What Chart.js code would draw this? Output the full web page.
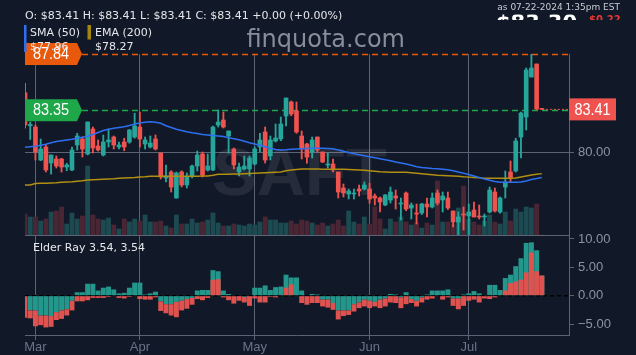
<!DOCTYPE html>
<html><head><meta charset="utf-8">
<script src="https://cdn.jsdelivr.net/npm/chart.js@4.4.1/dist/chart.umd.min.js"></script>
<style>
html,body{margin:0;padding:0;background:#111827;width:636px;height:355px;overflow:hidden}
#a{position:absolute;left:0;top:0}
#b{position:absolute;left:0;top:223px}
</style></head><body>
<canvas id="a" width="636" height="236"></canvas>
<canvas id="b" width="636" height="132"></canvas>
<script>
// ---------- data ----------
const monthLabels = ['Mar','Apr','May','Jun','Jul'];
const monthStartIndex = [2,22,44,66,85];
const open = [84.74,82.1,82.0,79.36,80.4,79.12,79.44,79.44,78.8,78.56,
80.56,81.04,79.84,81.84,80.48,79.76,80.8,81.2,80.4,80.8,
80.8,81.2,82.0,80.64,80.4,81.04,79.92,77.92,78.4,76.32,
78.4,77.36,78.08,78.88,79.84,78.56,78.56,82.16,82.56,81.28,
80.24,78.4,78.64,78.64,79.04,80.4,81.6,79.68,80.88,81.04,
82.88,84.0,83.28,81.28,80.64,80.0,81.2,80.0,78.96,79.04,
78.4,77.12,76.64,76.64,77.04,77.04,77.04,76.48,76.32,75.76,
76.16,76.48,75.84,76.72,75.52,75.12,75.12,75.84,75.6,76.72,
76.16,76.32,75.28,74.4,75.04,74.88,75.36,74.88,74.8,75.2,
76.8,75.2,77.2,78.4,78.48,81.2,82.8,86.0,87.04,83.41];
const high = [85.5,82.4,82.16,81.04,80.56,79.76,79.68,79.5,79.1,80.4,
81.5,81.2,82.4,82.0,80.96,81.36,81.84,81.28,80.8,81.1,
81.8,83.1,83.2,81.2,81.28,81.36,79.92,78.96,78.5,78.4,
78.5,78.32,78.96,80.08,80.0,79.84,82.08,83.36,83.2,81.68,
80.32,79.12,79.68,79.68,80.4,81.5,82.0,81.28,82.24,82.8,
84.32,84.08,84.0,81.68,80.7,81.2,81.2,80.0,79.92,79.44,
78.4,77.44,77.04,77.04,77.36,77.6,77.5,76.64,76.4,76.6,
77.2,76.96,76.32,76.8,75.92,75.84,75.9,76.32,76.72,76.96,
76.8,76.8,75.28,75.2,75.6,75.84,76.0,75.76,75.04,77.2,
77.12,76.4,78.48,79.28,81.1,83.2,86.72,87.84,87.04,83.41];
const low = [81.9,81.0,79.36,79.3,78.4,78.24,78.72,78.4,78.5,78.5,
80.16,79.6,79.76,79.92,80.08,79.68,80.4,80.24,80.24,80.1,
80.7,81.1,80.4,80.24,80.32,80.16,77.84,77.6,76.8,76.3,
77.2,77.12,77.92,78.48,78.0,78.48,78.5,82.0,81.92,79.9,
78.64,78.08,78.56,78.08,78.96,80.0,79.12,79.36,80.8,80.9,
82.08,82.9,81.5,79.44,79.1,79.52,80.0,79.15,78.72,78.4,
76.32,76.4,76.24,76.24,76.48,76.96,75.9,75.76,75.2,75.7,
75.92,75.44,74.56,75.3,74.64,74.24,75.0,74.8,75.52,75.76,
75.2,75.4,74.0,73.36,73.76,73.36,74.8,74.64,74.08,75.12,
75.2,75.1,76.32,77.6,78.4,79.52,81.76,86.0,83.36,83.41];
const close = [82.16,82.2,80.0,80.24,78.56,79.76,78.88,78.8,78.96,80.16,
81.28,80.24,82.4,80.32,80.16,80.8,80.96,80.56,80.56,80.4,
81.76,82.08,81.04,80.96,80.72,80.24,78.0,78.08,77.2,78.32,
77.36,78.0,78.88,79.76,78.16,78.88,82.0,82.4,82.0,81.68,
78.96,78.8,78.88,79.52,80.24,80.96,79.36,80.96,81.12,82.24,
84.32,83.04,81.6,80.24,79.6,80.96,80.16,79.2,79.04,78.56,
76.8,76.72,76.88,76.72,76.88,77.36,76.24,76.32,76.0,76.56,
76.8,76.32,75.92,75.44,75.76,75.04,75.84,75.6,76.32,75.92,
76.48,75.52,74.4,74.8,74.96,75.2,74.8,74.8,74.88,76.96,
75.28,76.32,77.6,77.92,80.88,83.12,86.56,86.72,83.44,83.41];
const volumeK = [63,54,54,42,48,69,72,84,33,66,
48,57,207,60,48,45,51,30,18,48,
39,48,42,60,39,39,42,27,21,60,
33,33,48,36,39,45,66,36,27,27,
33,30,27,33,30,39,54,45,45,36,
36,42,33,45,42,36,30,36,27,33,
45,27,72,39,33,54,33,84,48,18,
48,39,54,39,30,36,21,36,30,162,
39,39,33,81,147,48,39,30,42,60,
39,33,69,42,78,69,84,81,93,0];
const sma50 = [80.38,80.42,80.46,80.54,80.62,80.74,80.84,80.9,80.96,81.02,
81.1,81.18,81.26,81.4,81.56,81.72,81.82,81.9,81.96,82.02,
82.12,82.24,82.32,82.38,82.42,82.38,82.3,82.1,81.96,81.82,
81.72,81.62,81.54,81.48,81.4,81.36,81.32,81.28,81.24,81.14,
81.06,80.98,80.86,80.74,80.64,80.54,80.42,80.3,80.2,80.16,
80.18,80.22,80.24,80.26,80.28,80.3,80.3,80.3,80.28,80.26,
80.16,80.06,79.96,79.86,79.78,79.7,79.62,79.54,79.46,79.38,
79.3,79.2,79.12,79.04,78.94,78.82,78.76,78.72,78.68,78.66,
78.62,78.58,78.5,78.4,78.3,78.2,78.08,77.96,77.84,77.74,
77.64,77.58,77.58,77.58,77.58,77.6,77.68,77.8,77.88,77.96];
const ema200 = [77.36,77.36,77.48,77.5,77.5,77.52,77.54,77.58,77.6,77.62,
77.66,77.7,77.76,77.78,77.8,77.82,77.84,77.86,77.9,77.92,
77.94,77.96,78.0,78.02,78.06,78.06,78.06,78.06,78.06,78.06,
78.06,78.06,78.07,78.07,78.08,78.08,78.14,78.22,78.22,78.22,
78.24,78.24,78.26,78.28,78.3,78.32,78.34,78.36,78.38,78.4,
78.5,78.56,78.6,78.64,78.64,78.64,78.64,78.63,78.63,78.62,
78.62,78.62,78.6,78.58,78.56,78.54,78.5,78.46,78.42,78.4,
78.38,78.38,78.38,78.38,78.34,78.3,78.26,78.22,78.18,78.14,
78.12,78.1,78.08,78.06,78.02,77.99,77.96,77.93,77.9,77.9,
77.9,77.9,77.9,77.9,77.92,78.0,78.08,78.16,78.22,78.27];
const bullPower = [-0.1,-2.6,-2.6,-3.5,-3.5,-3.6,-2.9,-2.6,-2.4,-0.9,
0.6,0.6,2.1,2.1,0.9,1.4,1.6,1.1,0.4,0.5,
1.4,2.3,2.3,0.2,0.4,0.7,-1.0,-1.5,-1.5,-1.1,
-0.9,-0.6,-0.4,0.9,1.0,1.0,4.5,4.3,0.9,0.3,
-0.1,0.0,-0.2,0.0,1.4,1.4,1.8,1.0,1.5,1.6,
3.7,3.2,3.2,0.9,0.0,0.3,0.2,-0.7,-0.7,-1.3,
-2.6,-2.6,-2.6,-1.5,-1.2,-0.7,-0.9,-1.1,-0.7,-0.5,
0.3,0.2,-0.3,0.6,-0.6,-0.9,-0.3,0.2,0.9,0.9,
0.9,1.1,-0.5,-0.5,0.2,0.4,0.8,0.4,-0.1,1.9,
1.9,1.0,3.1,3.7,5.2,6.6,9.3,9.4,8.0,3.54];
const bearPower = [-3.9,-4.0,-5.4,-5.2,-5.6,-5.5,-4.3,-4.1,-3.5,-2.6,
-1.0,-1.0,-0.8,-0.4,-0.4,-0.4,-0.2,-0.1,-0.4,-0.5,
-0.2,-0.1,-0.6,-0.7,-0.7,-0.3,-2.7,-3.1,-3.5,-3.8,
-2.6,-2.3,-1.6,-0.6,-0.8,-0.4,2.8,2.9,-0.3,-0.8,
-1.4,-0.9,-1.2,-1.8,-0.5,-1.2,-1.2,-0.2,-0.3,0.1,
1.4,2.0,-0.1,-1.3,-1.6,-1.3,-1.3,-1.9,-2.1,-2.5,
-4.2,-3.6,-3.4,-2.8,-2.2,-1.9,-2.2,-1.9,-2.2,-1.9,
-1.2,-1.3,-2.2,-1.5,-1.3,-1.9,-1.2,-0.7,-0.5,-0.1,
-0.7,-0.3,-1.8,-2.4,-1.8,-0.9,-0.7,-1.2,-0.5,-0.6,
-0.3,0.1,0.9,2.2,2.5,2.8,4.1,7.6,4.3,3.54];
const priceTicks = [80];
const elderTicks = [10,5,0,-5];
const highMark = 87.84;
const supportMark = 83.35;
const ticker = 'SAFT';
const asOf = 'as 07-22-2024 1:35pm EST';
const bigPrice = '$83.30';
const bigChange = '$0.22';

// ---------- styles ----------
const GRID = '#5b6374';
const UP = '#26a69a', DOWN = '#ef5350';
const VOL_UP = '#1d4a50', VOL_DOWN = '#4a2634';
const SMA_C = '#2d6ff0', EMA_C = '#b08f12';
const AXIS_FONT = {family: '"Liberation Sans", Arial, sans-serif', size: 13};
const UI_FONT = '"DejaVu Sans", sans-serif';
const TAG_FONT = '17px "Liberation Sans", Arial, sans-serif';
const X_MIN = 0, X_MAX = 104.2;

const idx = close.map((_, i) => i);
const isUp = idx.map(i => close[i] > open[i]);
const last = close.length - 1;

function fixedTicks(values) { return s => { s.ticks = values.map(v => ({value: v})); }; }
function zeroPad(s) { s.paddingTop = 0; s.paddingBottom = 0; s.paddingLeft = 0; s.paddingRight = 0; }
function narrowText(ctx, text, cx, cy) {
  ctx.save();
  ctx.translate(cx, cy);
  ctx.scale(0.85, 1);
  ctx.fillStyle = '#ffffff'; ctx.font = TAG_FONT;
  ctx.textAlign = 'center'; ctx.textBaseline = 'middle';
  ctx.fillText(text, 0, 0);
  ctx.restore();
}

// ---------- main chart ----------
const mainDecor = {
  id: 'mainDecor',
  beforeDatasetsDraw(chart) {
    const {ctx, chartArea: a, scales: {y}} = chart;
    ctx.save();
    ctx.font = 'bold 67px "Liberation Sans", Arial, sans-serif';
    ctx.fillStyle = 'rgba(255,255,255,0.085)';
    ctx.textAlign = 'center'; ctx.textBaseline = 'alphabetic';
    ctx.fillText(ticker, 299.5, 195);
    ctx.lineWidth = 1.5;
    ctx.setLineDash([6, 4]);
    ctx.strokeStyle = '#e8590c';
    let yy = Math.round(y.getPixelForValue(highMark)) + 0.5;
    ctx.beginPath(); ctx.moveTo(82, yy); ctx.lineTo(a.right, yy); ctx.stroke();
    ctx.strokeStyle = '#1fa84a';
    yy = Math.round(y.getPixelForValue(supportMark)) + 0.5;
    ctx.beginPath(); ctx.moveTo(82, yy); ctx.lineTo(a.right, yy); ctx.stroke();
    ctx.restore();
  },
  afterDraw(chart) {
    const {ctx, chartArea: a, scales: {x, y}} = chart;
    ctx.save();
    const ly = y.getPixelForValue(close[last]);
    ctx.setLineDash([2, 2]); ctx.lineWidth = 1; ctx.strokeStyle = DOWN;
    ctx.beginPath(); ctx.moveTo(x.getPixelForValue(last), ly); ctx.lineTo(a.right, ly); ctx.stroke();
    ctx.setLineDash([]);
    function leftTag(val, color) {
      const py = y.getPixelForValue(val);
      ctx.fillStyle = color;
      ctx.beginPath();
      ctx.moveTo(25, py - 11); ctx.lineTo(77, py - 11); ctx.lineTo(82, py);
      ctx.lineTo(77, py + 11); ctx.lineTo(25, py + 11); ctx.closePath(); ctx.fill();
      narrowText(ctx, val.toFixed(2), 51, py + 0.5);
    }
    leftTag(highMark, '#e8590c');
    leftTag(supportMark, '#1ea84a');
    ctx.fillStyle = DOWN;
    ctx.fillRect(569, ly - 11, 47, 22);
    narrowText(ctx, close[last].toFixed(2), 592.5, ly + 0.5);

    ctx.textAlign = 'left'; ctx.textBaseline = 'alphabetic';
    ctx.font = '11px ' + UI_FONT; ctx.fillStyle = '#e5e7eb';
    const chg = close[last] - open[last];
    const pct = chg / open[last] * 100;
    const sign = chg >= 0 ? '+' : '-';
    ctx.fillText('O: $' + open[last].toFixed(2) + ' H: $' + high[last].toFixed(2) +
      ' L: $' + low[last].toFixed(2) + ' C: $' + close[last].toFixed(2) + ' ' +
      sign + Math.abs(chg).toFixed(2) + ' (' + sign + Math.abs(pct).toFixed(2) + '%)', 25, 19);
    ctx.fillStyle = SMA_C; ctx.fillRect(24, 25, 2.5, 27);
    ctx.fillStyle = '#a3870c'; ctx.fillRect(87.5, 25, 3.5, 14.5);
    ctx.fillStyle = '#e5e7eb';
    ctx.fillText('SMA (50)', 30, 35.5);
    ctx.fillText('$' + sma50[last].toFixed(2), 30, 49.5);
    ctx.fillText('EMA (200)', 95, 35.5);
    ctx.fillText('$' + ema200[last].toFixed(2), 95, 49.5);
    ctx.font = '24px ' + UI_FONT; ctx.fillStyle = '#878d99';
    ctx.fillText('finquota.com', 246.5, 47);
    ctx.font = '9px ' + UI_FONT; ctx.fillStyle = '#c8ccd4'; ctx.textAlign = 'right';
    ctx.fillText(asOf, 620, 10);
    ctx.save();
    ctx.beginPath(); ctx.rect(480, 14.5, 156, 5.5); ctx.clip();
    ctx.textAlign = 'left';
    ctx.font = 'bold 21px ' + UI_FONT; ctx.fillStyle = '#ffffff';
    ctx.fillText(bigPrice, 496, 30.3);
    ctx.font = 'bold 10px ' + UI_FONT; ctx.fillStyle = '#e53935';
    ctx.fillText(bigChange, 589, 22.5);
    ctx.restore();
    ctx.restore();
  }
};

new Chart(document.getElementById('a'), {
  type: 'bar',
  data: {
    datasets: [
      {type: 'line', data: idx.map(i => ({x: i, y: sma50[i]})), borderColor: SMA_C, borderWidth: 1.5,
        pointRadius: 0, fill: false, tension: 0, yAxisID: 'y', order: 1},
      {type: 'line', data: idx.map(i => ({x: i, y: ema200[i]})), borderColor: EMA_C, borderWidth: 1.5,
        pointRadius: 0, fill: false, tension: 0, yAxisID: 'y', order: 2},
      {data: idx.map(i => ({x: i, y: [open[i], close[i]]})), backgroundColor: idx.map(i => isUp[i] ? UP : DOWN),
        barThickness: 4, minBarLength: 1, grouped: false, yAxisID: 'y', order: 3},
      {data: idx.map(i => ({x: i, y: [low[i], high[i]]})), backgroundColor: idx.map(i => isUp[i] ? UP : DOWN),
        barThickness: 1.2, minBarLength: 1, grouped: false, yAxisID: 'y', order: 4},
      {data: idx.map(i => ({x: i, y: volumeK[i]})), backgroundColor: idx.map(i => isUp[i] ? VOL_UP : VOL_DOWN),
        barThickness: 4.2, grouped: false, yAxisID: 'yv', order: 5}
    ]
  },
  options: {
    responsive: false, animation: false, devicePixelRatio: 1, events: [],
    layout: {padding: {left: 25, top: 54, right: 0, bottom: 1}},
    plugins: {legend: {display: false}, tooltip: {enabled: false}},
    scales: {
      x: {type: 'linear', min: X_MIN, max: X_MAX, offset: false, position: 'bottom',
        afterBuildTicks: fixedTicks(monthStartIndex),
        ticks: {display: false},
        grid: {color: GRID, drawTicks: false, offset: false},
        border: {display: true, color: GRID},
        afterFit: s => { s.height = 0; zeroPad(s); }},
      y: {type: 'linear', position: 'right', min: 73.36, max: highMark,
        afterBuildTicks: fixedTicks(priceTicks),
        ticks: {color: '#8b93a3', font: AXIS_FONT, padding: 4, callback: v => v.toFixed(2)},
        grid: {color: GRID, tickLength: 5},
        border: {display: true, color: GRID},
        afterFit: s => { s.width = 67; zeroPad(s); }},
      yv: {type: 'linear', display: false, min: 0, max: 543}
    }
  },
  plugins: [mainDecor]
});

// ---------- elder ray chart ----------
const elderDecor = {
  id: 'elderDecor',
  beforeDatasetsDraw(chart) {
    const {ctx, chartArea: a, scales: {y}} = chart;
    const y0 = y.getPixelForValue(0);
    ctx.save();
    ctx.strokeStyle = '#000000'; ctx.lineWidth = 1.5; ctx.setLineDash([4, 3]);
    ctx.beginPath(); ctx.moveTo(a.left, y0); ctx.lineTo(a.right, y0); ctx.stroke();
    ctx.restore();
  },
  afterDraw(chart) {
    const {ctx} = chart;
    ctx.save();
    ctx.font = '11px ' + UI_FONT; ctx.fillStyle = '#e5e7eb';
    ctx.textAlign = 'left'; ctx.textBaseline = 'alphabetic';
    ctx.fillText('Elder Ray ' + bullPower[last].toFixed(2) + ', ' + bearPower[last].toFixed(2), 33, 27.5);
    ctx.restore();
  }
};

new Chart(document.getElementById('b'), {
  type: 'bar',
  data: {
    datasets: [
      {data: idx.map(i => ({x: i, y: [(bullPower[i] < 0 && bearPower[i] < 0) ? bullPower[i] : 0, bearPower[i]]})),
        backgroundColor: '#de524f', barPercentage: 0.95, categoryPercentage: 1, grouped: false, order: 1},
      {data: idx.map(i => ({x: i, y: [0, bullPower[i]]})),
        backgroundColor: '#24978c', barPercentage: 0.95, categoryPercentage: 1, grouped: false, order: 2}
    ]
  },
  options: {
    responsive: false, animation: false, devicePixelRatio: 1, events: [],
    layout: {padding: {left: 25, top: 12, right: 0, bottom: 0}},
    plugins: {legend: {display: false}, tooltip: {enabled: false}},
    scales: {
      x: {type: 'linear', min: X_MIN, max: X_MAX, offset: false, position: 'bottom',
        afterBuildTicks: fixedTicks(monthStartIndex),
        ticks: {color: '#6b7386', font: AXIS_FONT, padding: 0, autoSkip: false, maxRotation: 0,
          callback: (v, i) => monthLabels[i]},
        grid: {color: GRID, tickLength: 5, offset: false},
        border: {display: true, color: GRID},
        afterFit: s => { s.height = 20; zeroPad(s); }},
      y: {type: 'linear', position: 'right', min: -6.94, max: 10.7,
        afterBuildTicks: fixedTicks(elderTicks),
        ticks: {color: '#8b93a3', font: AXIS_FONT, padding: 4,
          callback: v => (v < 0 ? '\u2212' : '') + Math.abs(v).toFixed(2)},
        grid: {color: GRID, tickLength: 5, drawOnChartArea: false},
        border: {display: true, color: GRID},
        afterFit: s => { s.width = 67; zeroPad(s); }}
    }
  },
  plugins: [elderDecor]
});
</script>
</body></html>
